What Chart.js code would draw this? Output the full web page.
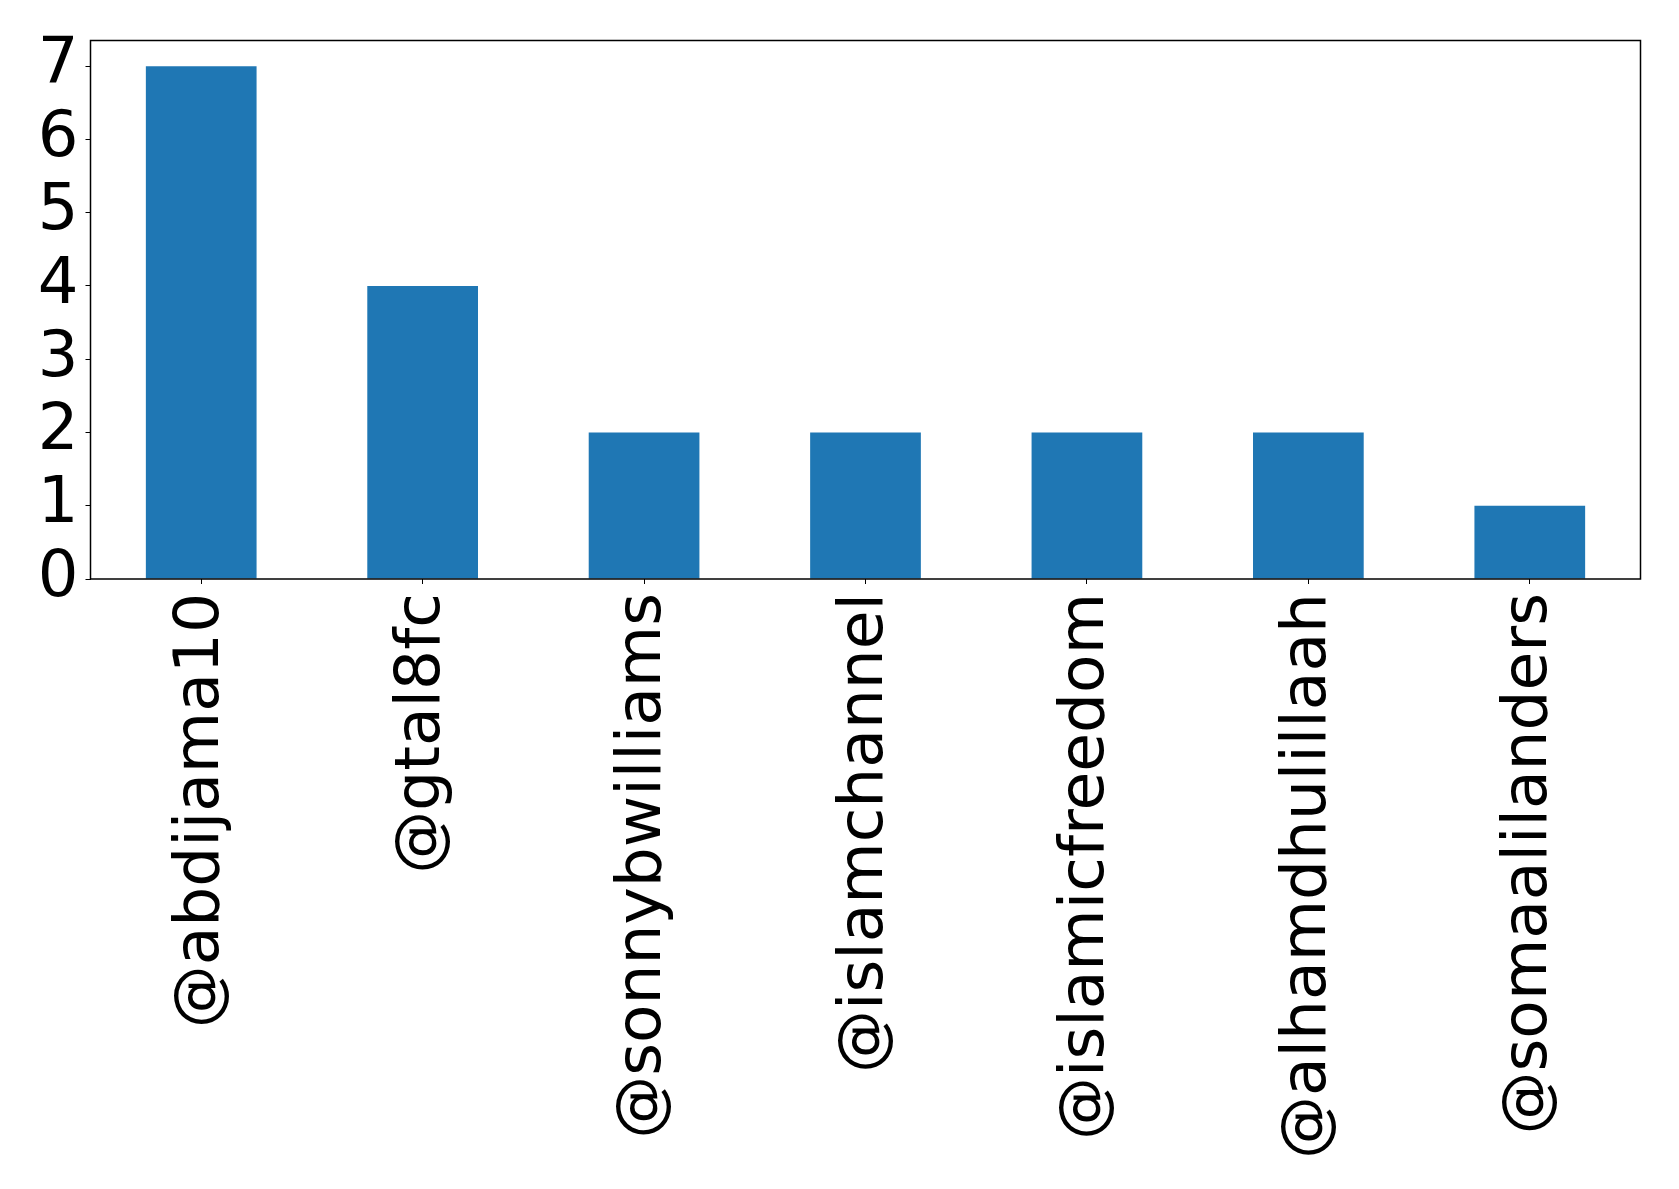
<!DOCTYPE html>
<html>
<head>
<meta charset="utf-8">
<script src="https://cdn.jsdelivr.net/npm/chart.js@4/dist/chart.umd.min.js"></script>
<style>
html,body{margin:0;padding:0;background:#fff;}
#wrap{width:1679px;height:1189px;position:relative;}
</style>
</head>
<body>
<div id="wrap"><canvas id="c" width="1679" height="1189"></canvas></div>
<script>
const categories = ["@abdijama10","@gtal8fc","@sonnybwilliams","@islamchannel","@islamicfreedom","@alhamdhulillaah","@somaalilanders"];
const counts = [7, 4, 2, 2, 2, 2, 1];
const yTickValues = [0, 1, 2, 3, 4, 5, 6, 7];
const yMax = 7.35;

const framePlugin = {
  id: 'frame',
  afterDatasetsDraw(chart) {
    const a = chart.chartArea, ctx = chart.ctx;
    ctx.save();
    ctx.strokeStyle = '#000';
    ctx.lineWidth = 1.5;
    ctx.strokeRect(a.left, a.top, a.right - a.left, a.bottom - a.top);
    ctx.restore();
  }
};

new Chart(document.getElementById('c'), {
  type: 'bar',
  data: {
    labels: categories,
    datasets: [{
      data: counts,
      backgroundColor: '#1f77b4',
      borderWidth: 0,
      barPercentage: 0.5,
      categoryPercentage: 1.0
    }]
  },
  options: {
    responsive: false,
    animation: false,
    layout: { padding: { top: 40.5, right: 38.5, left: 0, bottom: 0 } },
    plugins: { legend: { display: false }, tooltip: { enabled: false } },
    scales: {
      x: {
        offset: true,
        grid: { display: true, drawOnChartArea: false, drawTicks: true, tickLength: 5, offset: false, color: '#000', lineWidth: 1 },
        border: { display: false },
        ticks: {
          autoSkip: false, maxRotation: 90, minRotation: 90, padding: 9,
          color: '#000', font: { family: 'DejaVu Sans', size: 63 }
        },
        afterFit: s => { s.height = 610; s.paddingLeft = 0; s.paddingRight = 0; }
      },
      y: {
        min: 0, max: yMax,
        grid: { display: true, drawOnChartArea: false, drawTicks: true, tickLength: 5, color: '#000', lineWidth: 1 },
        border: { display: false },
        afterBuildTicks: s => { s.ticks = yTickValues.map(v => ({ value: v })); },
        ticks: {
          autoSkip: false, includeBounds: false, padding: 7,
          color: '#000', font: { family: 'DejaVu Sans', size: 64 },
          callback: v => String(v)
        },
        afterFit: s => { s.width = 90.5; s.paddingTop = 0; s.paddingBottom = 0; }
      }
    }
  },
  plugins: [framePlugin]
});
</script>
</body>
</html>
